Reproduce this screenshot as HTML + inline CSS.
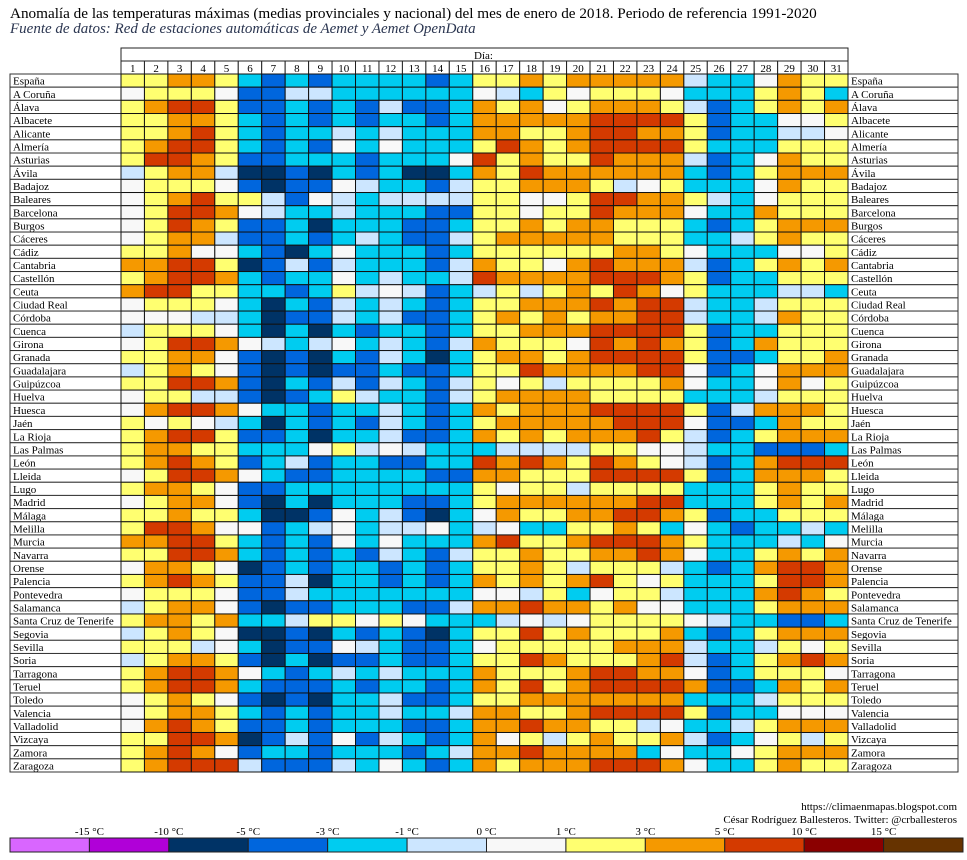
<!DOCTYPE html>
<html><head><meta charset="utf-8"><style>
html,body{margin:0;padding:0;background:#fff;}
svg{display:block;font-family:"Liberation Serif",serif;}
</style></head><body>
<svg id="chart" width="967" height="860" viewBox="0 0 967 860">
<text x="10" y="18" font-size="15.2" fill="#000">Anomalía de las temperaturas máximas (medias provinciales y nacional) del mes de enero de 2018. Periodo de referencia 1991-2020</text>
<text x="10" y="33" font-size="15" font-style="italic" fill="#2a3550">Fuente de datos: Red de estaciones automáticas de Aemet y Aemet OpenData</text>
<text x="957" y="810" font-size="11" text-anchor="end">https://climaenmapas.blogspot.com</text>
<text x="957" y="823" font-size="11" text-anchor="end">César Rodríguez Ballesteros. Twitter: @crballesteros</text>
<g id="grid"></g>
<g id="legend"></g>
</svg>
<script>
const provinces = ["España","A Coruña","Álava","Albacete","Alicante","Almería","Asturias","Ávila","Badajoz","Baleares","Barcelona","Burgos","Cáceres","Cádiz","Cantabria","Castellón","Ceuta","Ciudad Real","Córdoba","Cuenca","Girona","Granada","Guadalajara","Guipúzcoa","Huelva","Huesca","Jaén","La Rioja","Las Palmas","León","Lleida","Lugo","Madrid","Málaga","Melilla","Murcia","Navarra","Orense","Palencia","Pontevedra","Salamanca","Santa Cruz de Tenerife","Segovia","Sevilla","Soria","Tarragona","Teruel","Toledo","Valencia","Valladolid","Vizcaya","Zamora","Zaragoza"];
const days = [1,2,3,4,5,6,7,8,9,10,11,12,13,14,15,16,17,18,19,20,21,22,23,24,25,26,27,28,29,30,31];
// anomaly class codes per province (N:-10..-5, B:-5..-3, C:-3..-1, L:-1..0, W:0..1, Y:1..3, O:3..5, R:5..10, D:10..15)
const anomalyCodes = [
"YYOOYCBCBCCCCBCYYOYOOOOOLCCWOYY",
"WYYYWBBLLCCCCCCWLCYWYYYWCCCYOYC",
"YORRYBBCBCBLBBCOYOWYOOOYLBCYOYO",
"YYOOYCBCBCBCCBCOOOOORRRRYBCCWWY",
"YYORYCBCCLCLCCCOOYYORROOYBCCLLW",
"YORRYCBCBWCWCCCYROYORRRRYCCCYYY",
"YRROYBBCCCBCCCWRYOYYROOOLBCWOYY",
"LYOOLNNBNCBCNNCOYROOOOOOCBCYOOO",
"WYYYWBNBBWLCCBLYYOOOYLWYCCCWOYY",
"WYORYYLBWLCLLLLYYWWYRROOYLCWYYY",
"WYRROWLCCLCCCBBYYWYYROOOWCCOYYY",
"WYROYBBCNCCCBBCYYOYOOYYYCBCYOOO",
"WYOOLBBCBCLCBBLYOOOOOYYYCCLYOYY",
"YYOWWCBNCWCCCBCYYYYYYOOYWCCCWWY",
"OORRYNBLBLCCCBLOYYWOROOOLBCYOYO",
"YORROCBCCWCLCCLROOOORRROYBCCYYY",
"ORRYYCCBCYLWLBCLYLYOYROWYCCCLLC",
"WYYYWCNCBLCLCBCYYOOORORRLCCLYYY",
"WWWLLCNBBLCLBBCYOYOYOORRLCCLOYY",
"LYYYWCNCNCBCCBCYYOOORRRRYBCCYYY",
"WYRROWLCLWCLCBLOYYYWROROYBCOYYY",
"YYOOWBNBNCBLCNCYOOYORRRRYBBCYYO",
"LYOYWBNBNBBCBBCYYROOOORRWBCWOOO",
"YYRROBNCBLBLCBLYWYLYYYYOWCCWOWY",
"WYYLLBNBCYLCCBLYOOOOYYYYCCCLYYY",
"WORROWCCBCCLCBCOYOOORRRRYBLOOOY",
"YWYWLCNCBCBLCBCYOOOOORRRWBBCOYY",
"YORRYBBCNCCLBBCOYOYOOORYLBCYOOO",
"YOOYYCCCWYLWLCCCLLLLYYWWLCCBBBC",
"YOROYBCLBCCBBCCROROYROYWLBCORRR",
"WYRROWCBBCCCCBBOOYYYRRRRYBCOOOY",
"YOOYWBBCCCCCCCCYWYYLYYYYCCCYOYY",
"WYOOWBNCNCCCBBCYOOOOOORRCCCYOYO",
"YYOYYCNNBWCLBNCWOYYOORROYBCCYYY",
"YRROWWBCLWCLLWCLWCCYYOYCWCBCCLC",
"OORRYCBCBWCWCCCORYYORRROYCCCLCW",
"YYRROCBCBCBLCBLYYOYYOOROWCCYOYO",
"WOOYWNBCBCCBCBCYYOYLYYYLCBCORRO",
"YOROYBBLNCCBCBCOYOYORYWYCCCYRRO",
"WYYYWBBLCCCCCCCWWLYCWYYLCCCOROY",
"LYOOWBNBBCCCBBLOOROOYOWWCCCYOOO",
"YOOYOCCLYYWYWCCCLWLWYYYYWLCCBBC",
"LYOYWNNBNCBCBNCYYRYOYYYOCBCYOOO",
"YYYLWCNBBWLCBBCWYYYYYOOOLCCLYWY",
"LYOOYBNCNBBCBBCYYROYYYORLBCYORO",
"YORROWCBCLCLCCCOYYYORROOWBCYYYW",
"YORROCBBBCBCCBCOYRYORRRROBBCOYO",
"WYOYWBNBNCCLBBCYYOOOOOOOCCCLYYY",
"WYOOYCBCBCCLCCLOOYYORRRRYBCCWWW",
"WOROYBBCBCCCBBCOOROOYYLWCCLYOOO",
"YYRRONBLBWBLCBCOWYLYOYYOLBCWYLY",
"YOROWBCCBCCCBCLOOROOOOCWCCWYOOO",
"YORRRLBBBLCWCBCOYOOORRROWCCYOYY"
];
const codeValues = {N:-7,B:-4,C:-2,L:-0.5,W:0.5,Y:2,O:4,R:7,D:12};
const thresholds = [-15,-10,-5,-3,-1,0,1,3,5,10,15];
const tickLabels = ["-15 °C","-10 °C","-5 °C","-3 °C","-1 °C","0 °C","1 °C","3 °C","5 °C","10 °C","15 °C"];
const palette = ["#d966ff","#b000d8","#003366","#0066dd","#00ccf0","#cce6ff","#f8f8f8","#ffff70","#f59900","#d43a00","#8b0000","#663300"];

const NS="http://www.w3.org/2000/svg";
function mk(tag, attrs, parent){const e=document.createElementNS(NS,tag);for(const k in attrs)e.setAttribute(k,attrs[k]);parent.appendChild(e);return e;}
const gridX0=121, gridX1=848, gridY0=74, rowH=(772-74)/53, colW=(gridX1-gridX0)/days.length;
const xScale = i => gridX0 + i*colW;
const yScale = i => gridY0 + i*rowH;
function colorFor(v){let k=0;for(const t of thresholds){if(v>=t)k++;}return palette[k];}
const g=document.getElementById('grid');

let hdr=mk('rect',{x:gridX0,y:48,width:gridX1-gridX0,height:13,fill:'#fff',stroke:'#222','stroke-width':1},g);


let ht=mk('text',{x:474,y:59,'font-size':11},g);ht.textContent='Día:';


days.forEach((d,i)=>{
  const r=mk('rect',{x:xScale(i),y:61,width:colW,height:13,fill:'#fff',stroke:'#222','stroke-width':1},g);
  
  
  const t=mk('text',{x:xScale(i)+colW/2,y:72,'font-size':11,'text-anchor':'middle'},g);t.textContent=d;
  
  
});
provinces.forEach((p,r)=>{
  const y=yScale(r);
  const lb=mk('rect',{x:10,y:y,width:gridX0-10,height:rowH,fill:'#fff',stroke:'#333','stroke-width':1},g);
  
  
  const lt=mk('text',{x:13,y:y+rowH-2.5,'font-size':11},g);lt.textContent=p;
  
  
  const rb=mk('rect',{x:gridX1,y:y,width:958-gridX1,height:rowH,fill:'#fff',stroke:'#333','stroke-width':1},g);
  
  
  const rt=mk('text',{x:gridX1+3,y:y+rowH-2.5,'font-size':11},g);rt.textContent=p;
  
  
  const codes=anomalyCodes[r];
  days.forEach((d,i)=>{
    const v=codeValues[codes[i]];
    const c=mk('rect',{x:xScale(i),y:y,width:colW,height:rowH,fill:colorFor(v),stroke:'#111','stroke-width':1},g);
    
    
  });
});

const lg=document.getElementById('legend');
const lx0=10, lx1=963, segW=(lx1-lx0)/palette.length;
palette.forEach((col,i)=>{
  const s=mk('rect',{x:lx0+i*segW,y:838,width:segW,height:14,fill:col,stroke:'#222','stroke-width':1},lg);
  
  
});
tickLabels.forEach((t,i)=>{
  const e=mk('text',{x:lx0+(i+1)*segW,y:835,'font-size':11,'text-anchor':'middle'},lg);e.textContent=t;
  
  
});
</script>
</body></html>
